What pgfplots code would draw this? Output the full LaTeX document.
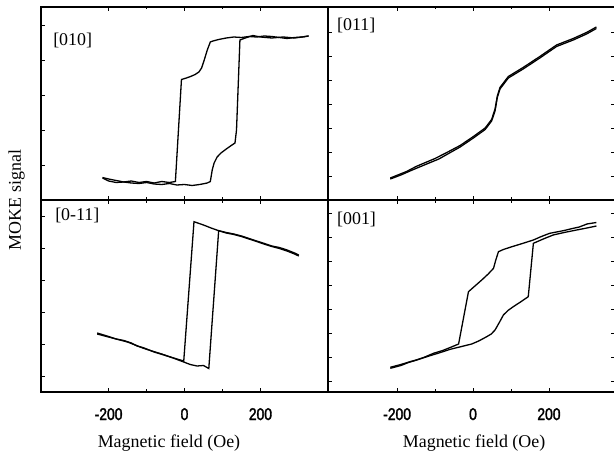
\documentclass[border=0pt]{standalone}
\usepackage{fontspec}
\setmainfont{Liberation Serif}
\newfontfamily\tickfont[FakeStretch=0.82,FakeBold=2]{Liberation Sans}
\usepackage{pgfplots}
\pgfplotsset{compat=1.18}

\pgfplotsset{
  panel/.style={
    scale only axis, width=287bp, anchor=south west,
    xmin=-378, xmax=378, ymin=0,
    xtick={-200,0,200}, minor x tick num=1,
    yticklabels={},
    tick align=inside,
    major tick length=4bp, minor tick length=2.5bp,
    tick style={black, line width=0.9bp},
    axis line style={line width=1.3bp},
    /pgf/number format/assume math mode=true,
    xticklabel style={font=\tickfont\fontsize{17}{17}\selectfont, anchor=base, yshift=-28bp},
    xlabel style={font=\fontsize{18}{18}\selectfont, anchor=base},
    ylabel style={font=\fontsize{18}{18}\selectfont, anchor=base},
  },
  loop/.style={black, line width=1.3bp, no markers},
}
\tikzset{tag/.style={anchor=base west, inner sep=0pt, font=\fontsize{18}{18}\selectfont}}

\begin{document}
\begin{tikzpicture}
\path[use as bounding box] (0,0) rectangle (614bp,454bp);

% [010]
\begin{axis}[panel, at={(41bp,254bp)}, height=193bp, ymax=193,
  ytick={35,70,105,140,175}, ytick pos=left, xticklabels={}]
\addplot[loop] coordinates {
 (327,164) (310,163) (290,162.5) (270,161.5) (250,162.5) (230,163.5) (210,164)
 (190,163) (170,163.5) (150,162.5) (130,163) (110,162) (90,160.5) (75,159)
 (68,158) (60,150) (52,140) (45,132) (38,128) (28,125.5) (16,123.5) (5,122)
 (-8,120.5) (-24,18.5) (-40,17.5) (-60,18.5) (-80,17) (-100,18.5) (-120,17.5)
 (-140,19) (-160,18) (-180,19.5) (-200,21) (-216,22.5)};
\addplot[loop] coordinates {
 (-216,22) (-200,19) (-180,17.5) (-160,18) (-140,17) (-120,16.5) (-100,17.5)
 (-80,16) (-60,15.5) (-40,16.5) (-20,15) (0,15.5) (20,14.5) (40,15.5) (60,17)
 (68,18.5) (73,30) (78,37) (86,43) (96,47) (110,51) (125,55) (133,57) (137,70)
 (146,160) (160,162) (180,164.5) (200,163) (230,162) (260,163) (290,162)
 (310,163) (327,164)};
\node[tag] at (axis description cs:0.042,0.803) {[010]};
\end{axis}

% [011]
\begin{axis}[panel, at={(328bp,254bp)}, height=193bp, ymax=193,
  xmin=-382, xmax=374,
  ytick={24,48,72,96,120,144,168}, ytick pos=both, xticklabels={}]
\addplot[loop] coordinates {
 (325,173) (299,167.5) (264,161.5) (220,155) (176,143.5) (132,132.5)
 (93,123.5) (71,112.5) (64,104) (58,91) (49,80.5) (32,72) (1,63.5)
 (-34,54.5) (-69,47.5) (-100,41.5) (-122,38) (-150,33.5) (-175,28.5) (-218,22)};
\addplot[loop] coordinates {
 (-218,21) (-190,25) (-160,30) (-122,36) (-90,41) (-69,45.5) (-34,53) (1,62)
 (32,70.5) (49,79) (58,89) (64,102.5) (71,111) (93,122) (132,131) (176,142)
 (220,153.5) (264,160) (299,166) (325,171.5)};
\node[tag] at (axis description cs:0.031,0.876) {[011]};
\end{axis}

% [0-11]
\begin{axis}[panel, at={(41bp,62bp)}, height=192bp, ymax=192,
  ytick={16,48,80,112,144,176}, ytick pos=left,
  xlabel={Magnetic field (Oe)},
  xlabel style={at={(axis description cs:0.446,0)}, yshift=-55bp},
  ylabel={MOKE signal},
  ylabel style={at={(axis description cs:-0.0697,1)}}]
\addplot[loop] coordinates {
 (301,137) (290,139) (270,142) (250,144.5) (230,146) (209,148.7) (190,151)
 (170,153.5) (150,156) (130,158) (110,159.5) (90,161.3) (70,164) (50,167)
 (25,170.3) (-2,31) (-20,33) (-50,36.5) (-80,40) (-110,44.5) (-125,46)
 (-140,49) (-160,51.5) (-180,53) (-200,55.5) (-230,59)};
\addplot[loop] coordinates {
 (-230,58) (-210,56) (-190,54) (-170,52) (-150,50) (-130,47) (-110,44)
 (-90,41.5) (-60,38) (-30,34) (-2,30) (15,27.5) (33,26) (50,26.5) (64,23.5)
 (90,161.3) (110,159) (130,157.5) (150,155.5) (170,153) (190,150.5)
 (209,148) (230,145.5) (250,143.5) (270,141) (290,138) (301,136)};
\node[tag] at (axis description cs:0.049,0.891) {[0-11]};
\end{axis}

% [001]
\begin{axis}[panel, at={(328bp,62bp)}, height=192bp, ymax=192,
  xmin=-382, xmax=374,
  ytick={11,35,59,83,107,131,155,179}, ytick pos=both,
  xlabel={Magnetic field (Oe)},
  xlabel style={at={(axis description cs:0.509,0)}, yshift=-55bp}]
\addplot[loop] coordinates {
 (325,169.5) (300,168) (280,165) (264,163.7) (240,161.5) (220,160) (202,158.7)
 (180,155.5) (159,152) (130,148.5) (100,145) (80,142.5) (67,140.3) (60,132)
 (54,123.7) (40,118) (23,112) (5,106) (-12,100.3) (-38,48) (-60,44.5)
 (-80,41.5) (-104,38.7) (-130,34.5) (-150,32) (-166,30.3) (-190,27.5) (-218,24.7)};
\addplot[loop] coordinates {
 (-218,23.7) (-190,26.5) (-170,29.5) (-148,32) (-120,35.5) (-90,39) (-60,42.7)
 (-30,45.5) (-3.5,48) (15,51) (36,55.3) (48,58) (58,62) (70,70) (80,77)
 (92,81.5) (106,85.3) (125,90) (145.5,95.3) (159,148.7) (185,153) (211,157)
 (240,159.5) (273,162) (300,164) (325,166)};
\node[tag] at (axis description cs:0.031,0.875) {[001]};
\end{axis}
\end{tikzpicture}
\end{document}
